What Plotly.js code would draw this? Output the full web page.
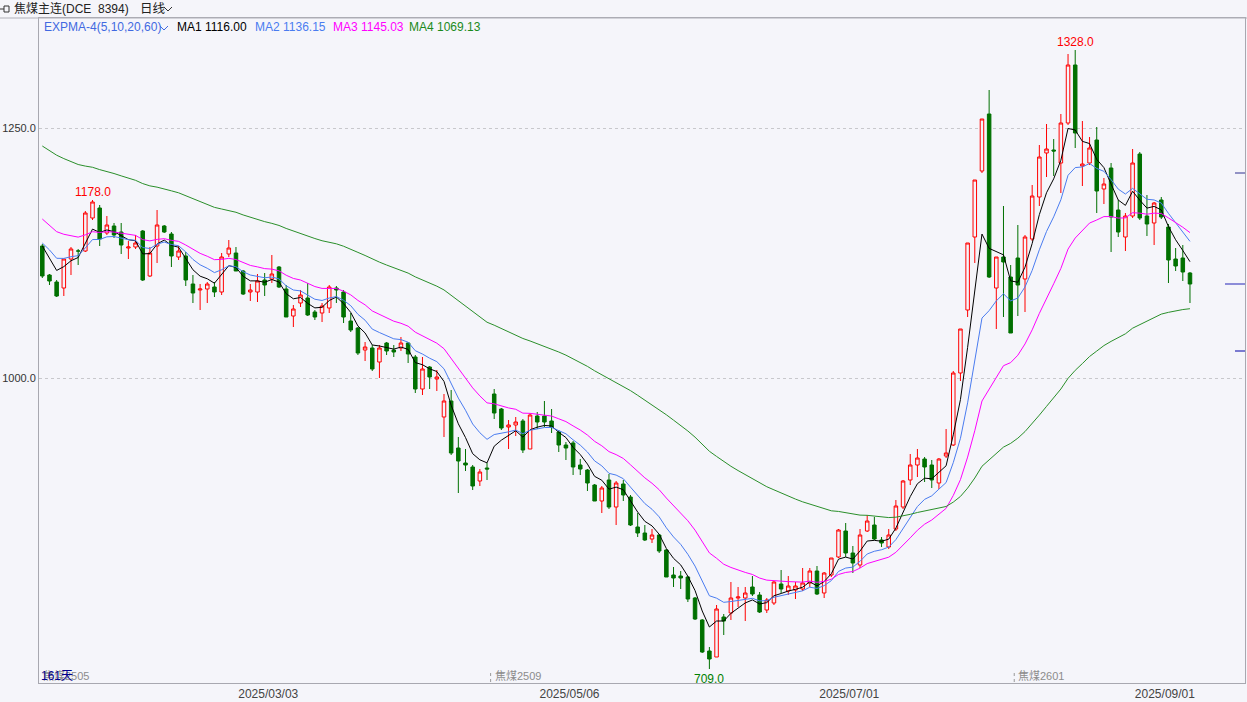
<!DOCTYPE html>
<html><head><meta charset="utf-8">
<script src="https://cdn.plot.ly/plotly-3.0.1.min.js"></script>
<style>html,body{margin:0;padding:0;background:#f5f5fa;overflow:hidden}#chart{width:1247px;height:702px}</style>
</head><body><div id="chart"></div>
<script>
// ---- data (焦煤主连 daily) ----
const opens = [1132,1103,1096,1090,1119,1127,1127,1160,1170,1145,1152,1146,1130,1131,1147,1102,1132,1152,1144,1121,
1122,1094,1088,1089,1091,1086,1124,1125,1107,1086,1086,1098,1099,1111,1089,1062,1075,1080,1066,1065,
1070,1090,1086,1057,1050,1028,1030,1016,1035,1028,1030,1035,1021,989,1011,999,961,977,930,915,
911,897,910,984,969,951,953,957,929,962,962,957,946,933,935,913,908,893,877,898,
871,894,881,851,845,839,843,828,803,802,801,780,758,727,721,761,765,780,780,791,
783,768,775,794,787,788,789,795,807,785,803,821,847,825,813,847,853,838,831,849,
871,898,913,919,913,895,922,933,1005,1068,1141,1207,1264,1090,1121,1101,1120,1099,1139,1181,
1225,1228,1215,1255,1313,1212,1215,1238,1189,1210,1168,1141,1162,1224,1162,1155,1178,1151,1119,1120,
1105];
const highs = [1134,1104,1098,1119,1131,1129,1167,1178,1173,1162,1155,1155,1137,1143,1148,1131,1168,1153,1146,1132,
1126,1103,1094,1096,1096,1125,1138,1131,1108,1094,1104,1105,1123,1112,1093,1073,1088,1095,1068,1075,
1093,1092,1088,1065,1051,1036,1033,1033,1036,1033,1041,1036,1023,1021,1012,1008,984,988,941,929,
913,909,915,989,970,958,961,959,965,966,977,969,948,936,937,919,909,894,892,904,
897,898,883,865,853,849,844,829,811,807,802,781,759,731,773,764,796,791,791,802,
786,780,797,808,802,796,810,810,812,806,820,849,855,832,849,863,861,841,849,878,
898,924,929,921,918,920,949,1007,1049,1135,1198,1259,1288,1121,1172,1113,1153,1143,1193,1233,
1254,1239,1264,1324,1328,1257,1241,1251,1200,1215,1178,1165,1229,1226,1183,1176,1181,1154,1130,1133,
1106];
const lows = [1100,1093,1081,1082,1103,1113,1126,1158,1132,1143,1140,1124,1119,1129,1097,1101,1115,1145,1111,1118,
1092,1075,1068,1075,1081,1083,1121,1107,1083,1077,1076,1082,1095,1090,1061,1051,1071,1062,1058,1056,
1065,1075,1055,1046,1023,1017,1007,1000,1023,1021,1027,1015,985,983,989,987,941,923,885,907,
888,892,898,959,948,929,942,925,929,949,951,945,926,918,903,903,887,877,865,869,
853,877,852,841,837,835,825,801,791,789,776,758,725,709,721,743,758,771,757,782,
765,765,773,785,783,779,787,791,783,780,801,820,821,805,810,846,838,831,829,847,
869,893,901,896,890,889,920,932,997,1061,1115,1205,1100,1049,1061,1045,1062,1066,1137,1172,
1201,1202,1185,1253,1230,1192,1213,1165,1174,1126,1141,1127,1160,1158,1142,1133,1159,1095,1107,1097,
1075];
const closes = [1102,1097,1082,1119,1129,1127,1165,1176,1139,1153,1143,1133,1131,1135,1098,1125,1153,1146,1122,1127,
1098,1085,1089,1094,1086,1121,1130,1107,1084,1088,1097,1093,1104,1091,1061,1069,1083,1063,1061,1072,
1091,1088,1061,1048,1025,1031,1009,1030,1027,1026,1035,1024,989,1009,1001,1001,977,925,917,913,
892,906,909,965,950,953,956,928,963,956,956,951,933,930,911,909,895,877,890,871,
895,883,853,845,838,843,827,801,800,800,779,759,726,719,769,757,780,781,785,784,
766,778,796,789,792,792,795,807,784,805,820,848,825,815,843,857,839,835,843,872,
897,913,920,911,898,919,925,1005,1049,1135,1198,1259,1101,1121,1116,1045,1093,1141,1182,1221,
1229,1227,1255,1313,1245,1214,1230,1187,1194,1161,1146,1162,1215,1160,1154,1175,1161,1118,1112,1106,
1094];
// EXPMA periods and their values at the first visible bar
const emaPeriods = [5, 10, 20, 60];
const emaStart = [1132, 1135, 1159, 1232];
const emaNames = ['MA1', 'MA2', 'MA3', 'MA4'];
const emaLegendValues = [1116.00, 1136.15, 1145.03, 1069.13];
// axis labels
const dateLabels = ['2025/03/03', '2025/05/06', '2025/07/01', '2025/09/01'];
const dateBarIdx = [32, 74, 113, 157];
const priceTicks = [1000, 1250];
const contracts = ['焦煤2505', '焦煤2509', '焦煤2601'];
const contractStart = [0, 63, 136];
const rightMarks = [1205, 1027];

// ---- styling ----
const BG = '#f5f5fa', UP = '#ff0000', DOWN = '#007000';
const lineColors = ['#000000', '#4a7cf0', '#ff00ff', '#2a8f2a'];
const legendColors = ['#000000', '#4a7cf0', '#ff00ff', '#1a8a1a'];
const FONT = 'Liberation Sans, Noto Sans CJK SC, sans-serif';
const L = 39, R = 1245, T = 18, B = 683;
const XR = [-0.46, 167.67];
const PX = x => (x - L) / (R - L), PY = y => (B - y) / (B - T);

const idx = closes.map((_, i) => i);
function ema(vals, n, start) {
  const a = 2 / (n + 1), out = [start];
  for (let i = 1; i < vals.length; i++) out.push(out[i - 1] + a * (vals[i] - out[i - 1]));
  return out;
}

const traces = [{
  type: 'candlestick', x: idx, open: opens, high: highs, low: lows, close: closes,
  increasing: {line: {color: UP, width: 1}, fillcolor: BG},
  decreasing: {line: {color: DOWN, width: 1}, fillcolor: DOWN},
  whiskerwidth: 0, hoverinfo: 'skip'
}];
emaPeriods.forEach((n, k) => {
  traces.push({type: 'scatter', mode: 'lines', x: idx, y: ema(closes, n, emaStart[k]),
    line: {color: lineColors[k], width: 1}, hoverinfo: 'skip'});
});

const ann = [];
function txt(text, xp, yp, color, size, extra) {
  ann.push(Object.assign({text, x: PX(xp), y: PY(yp), xref: 'paper', yref: 'paper', xanchor: 'left', yanchor: 'middle',
    showarrow: false, font: {family: FONT, size, color}}, extra || {}));
}
// header
txt('焦煤主连(DCE  8394)', 12, 9, '#222', 12);
txt('日线', 138, 9, '#222', 12.5);
// legend row
txt('EXPMA-4(5,10,20,60)', 42, 27, '#4169e1', 12);
const legX = [175, 253, 331, 407];
emaNames.forEach((nm, k) => txt(nm + ' ' + emaLegendValues[k].toFixed(2), legX[k], 27, legendColors[k], 12));
// extreme price labels
const gMax = highs.indexOf(Math.max(...highs));
const gMin = lows.indexOf(Math.min(...lows));
const early = highs.slice(0, 60);
const eMax = early.indexOf(Math.max(...early));
[[gMax, highs[gMax]], [eMax, highs[eMax]]].forEach(([i, v]) => ann.push({text: v.toFixed(1), x: i, y: v, xref: 'x', yref: 'y',
  xanchor: 'center', yanchor: 'bottom', yshift: -1, showarrow: false, font: {family: FONT, size: 12, color: '#ff0000'}}));
ann.push({text: lows[gMin].toFixed(1), x: gMin, y: lows[gMin], xref: 'x', yref: 'y', xanchor: 'center', yanchor: 'top',
  yshift: -1, showarrow: false, font: {family: FONT, size: 12, color: '#008000'}});
// contract labels
contracts.forEach((c, k) => ann.push({text: c, x: Math.max(contractStart[k] - 0.5, XR[0] + 0.01), y: PY(676), xref: 'x', yref: 'paper',
  xanchor: 'left', yanchor: 'middle', xshift: 2, showarrow: false, font: {family: FONT, size: 11, color: '#8c8c8c'}}));
txt(closes.length + '天', 39, 676, '#00008b', 12);

const shapes = [
  {type: 'line', xref: 'paper', yref: 'paper', x0: PX(0), x1: PX(1247), y0: PY(18), y1: PY(18), line: {color: '#b0b0b8', width: 1}},
  // header icon
  {type: 'rect', xref: 'paper', yref: 'paper', x0: PX(4), x1: PX(9), y0: PY(6), y1: PY(12), line: {color: '#333', width: 1}},
  {type: 'line', xref: 'paper', yref: 'paper', x0: PX(0), x1: PX(4), y0: PY(9), y1: PY(9), line: {color: '#333', width: 1}},
  // chevrons
  {type: 'path', xref: 'paper', yref: 'paper', path: `M${PX(164)},${PY(7)} L${PX(168)},${PY(11)} L${PX(172)},${PY(7)}`, line: {color: '#333', width: 1}},
  {type: 'path', xref: 'paper', yref: 'paper', path: `M${PX(160)},${PY(26)} L${PX(164)},${PY(30)} L${PX(168)},${PY(26)}`, line: {color: '#4169e1', width: 1}},
  // right-side price markers
  {type: 'line', xref: 'paper', yref: 'y', x0: PX(1235), x1: PX(1245), y0: rightMarks[0], y1: rightMarks[0], line: {color: '#303090', width: 1}},
  {type: 'line', xref: 'paper', yref: 'y', x0: PX(1235), x1: PX(1245), y0: rightMarks[1], y1: rightMarks[1], line: {color: '#7a7ad0', width: 2}},
  {type: 'line', xref: 'paper', yref: 'y', x0: PX(1225), x1: PX(1245), y0: closes[closes.length - 1], y1: closes[closes.length - 1], line: {color: '#8c8cd8', width: 2}}
];
contractStart.slice(1).forEach(s => shapes.push({type: 'line', xref: 'x', yref: 'paper', x0: s - 0.5, x1: s - 0.5,
  y0: PY(682), y1: PY(670), line: {color: '#999', width: 1, dash: 'dot'}}));

const layout = {
  width: 1247, height: 702, margin: {l: L, r: 1247 - R, t: T, b: 702 - B, pad: 0},
  paper_bgcolor: BG, plot_bgcolor: BG, showlegend: false, font: {family: FONT},
  xaxis: {range: XR, tickvals: dateBarIdx.map(i => i - 0.5), ticktext: dateLabels, ticks: '',
    showgrid: false, zeroline: false, showline: true, mirror: true, linecolor: '#a8a8b0', linewidth: 1,
    tickfont: {family: FONT, size: 12, color: '#444'}, rangeslider: {visible: false}, fixedrange: true},
  yaxis: {range: [695, 1360], tickvals: priceTicks, ticktext: priceTicks.map(v => v.toFixed(1)), ticks: '',
    showgrid: true, gridcolor: '#c8c8cc', griddash: '3px,3px', gridwidth: 1, zeroline: false,
    showline: true, mirror: true, linecolor: '#a8a8b0', linewidth: 1,
    tickfont: {family: FONT, size: 11, color: '#333'}, fixedrange: true},
  annotations: ann, shapes: shapes
};
Plotly.newPlot('chart', traces, layout, {displayModeBar: false, staticPlot: true});
</script></body></html>
